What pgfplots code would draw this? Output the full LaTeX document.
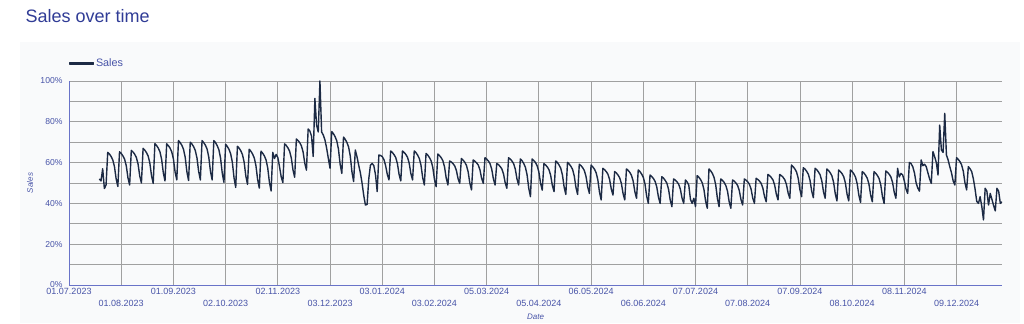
\documentclass[border=0pt]{standalone}
\usepackage{fontspec}
\setmainfont{Liberation Sans}
\usepackage{pgfplots}
\usepackage{pgfplotstable}
\pgfplotsset{compat=1.18}
\definecolor{titleblue}{RGB}{48,60,150}
\definecolor{labblue}{RGB}{72,84,168}
\definecolor{axisblue}{RGB}{105,115,200}
\definecolor{linecol}{RGB}{28,42,68}
\definecolor{panel}{RGB}{249,250,251}
\definecolor{gridc}{RGB}{160,160,160}

\pgfplotstableread[row sep=\\]{
y\\
52\\ 51\\ 57\\ 47.3\\ 49\\
65.0\\ 64.2\\ 63.0\\ 61.3\\ 58.0\\ 52.0\\ 48.3\\
65.3\\ 64.5\\ 63.3\\ 61.7\\ 58.5\\ 52.6\\ 49.0\\
66.0\\ 65.2\\ 64.1\\ 62.5\\ 59.3\\ 53.5\\ 50.0\\
67.0\\ 66.1\\ 64.9\\ 63.2\\ 59.8\\ 53.6\\ 49.8\\
69.3\\ 68.4\\ 67.1\\ 65.3\\ 61.6\\ 55.0\\ 51.0\\
69.2\\ 68.3\\ 67.1\\ 65.3\\ 61.8\\ 55.4\\ 51.5\\
70.8\\ 69.8\\ 68.5\\ 66.5\\ 62.6\\ 55.5\\ 51.2\\
70.0\\ 69.1\\ 67.8\\ 65.9\\ 62.2\\ 55.6\\ 51.5\\
70.8\\ 69.8\\ 68.5\\ 66.6\\ 62.7\\ 55.7\\ 51.5\\
70.8\\ 69.8\\ 68.3\\ 66.3\\ 62.2\\ 54.8\\ 50.3\\
69.0\\ 67.9\\ 66.5\\ 64.3\\ 60.1\\ 52.5\\ 47.8\\
68.0\\ 67.1\\ 65.8\\ 63.9\\ 60.2\\ 53.4\\ 49.3\\
66.5\\ 65.6\\ 64.2\\ 62.3\\ 58.5\\ 51.7\\ 47.5\\
65.6\\ 64.6\\ 63.3\\ 61.3\\ 57.4\\ 50.4\\ 46.1\\
65.0\\ 62.0\\ 64.0\\ 62.5\\ 58.0\\ 53.0\\ 50.2\\
69.2\\ 68.4\\ 67.2\\ 65.6\\ 62.3\\ 56.4\\ 52.8\\
71.6\\ 70.8\\ 69.8\\ 68.2\\ 65.2\\ 59.7\\ 56.3\\
76.5\\ 75.5\\ 73.0\\ 63.0\\ 91.5\\ 78.5\\ 75.0\\
100\\ 75.0\\ 73.5\\ 71.0\\ 67.0\\ 62.0\\ 57.2\\
75.2\\ 74.2\\ 72.7\\ 70.7\\ 66.6\\ 59.2\\ 54.7\\
72.5\\ 71.4\\ 69.9\\ 67.7\\ 63.3\\ 55.5\\ 50.7\\
66.2\\ 62.9\\ 58.8\\ 55.0\\ 50.0\\ 44.0\\ 39.2\\
39.5\\ 52.0\\ 58.8\\ 59.6\\ 58.5\\ 54.0\\ 45.8\\
63.7\\ 63.5\\ 62.9\\ 61.5\\ 58.5\\ 54.2\\ 51.5\\
65.7\\ 65.0\\ 63.9\\ 62.5\\ 59.5\\ 54.2\\ 51.0\\
65.7\\ 65.0\\ 64.0\\ 62.6\\ 59.7\\ 54.6\\ 51.5\\
65.7\\ 64.9\\ 63.7\\ 62.0\\ 58.7\\ 52.7\\ 49.0\\
64.5\\ 63.7\\ 62.5\\ 60.9\\ 57.7\\ 51.8\\ 48.2\\
64.2\\ 63.4\\ 62.4\\ 60.9\\ 57.8\\ 52.3\\ 49.0\\
60.8\\ 60.3\\ 59.5\\ 58.4\\ 56.2\\ 52.2\\ 49.8\\
62.0\\ 61.2\\ 60.2\\ 58.6\\ 55.5\\ 50.0\\ 46.6\\
61.3\\ 60.7\\ 59.9\\ 58.8\\ 56.5\\ 52.3\\ 49.8\\
62.4\\ 61.7\\ 60.8\\ 59.5\\ 56.8\\ 52.0\\ 49.0\\
59.6\\ 59.0\\ 58.1\\ 56.9\\ 54.5\\ 50.1\\ 47.4\\
62.4\\ 61.7\\ 60.8\\ 59.5\\ 56.8\\ 52.0\\ 49.0\\
61.8\\ 60.9\\ 59.6\\ 57.7\\ 54.0\\ 47.4\\ 43.3\\
61.8\\ 61.0\\ 60.0\\ 58.4\\ 55.4\\ 49.9\\ 46.5\\
59.5\\ 58.8\\ 57.9\\ 56.5\\ 53.8\\ 48.8\\ 45.8\\
60.8\\ 60.0\\ 58.8\\ 57.2\\ 53.9\\ 48.0\\ 44.4\\
60.1\\ 59.3\\ 58.2\\ 56.7\\ 53.5\\ 47.9\\ 44.4\\
59.2\\ 58.5\\ 57.5\\ 56.1\\ 53.2\\ 48.1\\ 44.9\\
58.8\\ 57.9\\ 56.8\\ 55.0\\ 51.6\\ 45.5\\ 41.7\\
57.2\\ 56.5\\ 55.6\\ 54.3\\ 51.7\\ 47.0\\ 44.1\\
55.6\\ 54.9\\ 53.9\\ 52.5\\ 49.8\\ 44.8\\ 41.7\\
56.9\\ 56.2\\ 55.2\\ 53.7\\ 50.9\\ 45.7\\ 42.5\\
56.4\\ 55.6\\ 54.4\\ 52.8\\ 49.5\\ 43.6\\ 40.0\\
53.9\\ 53.2\\ 52.2\\ 50.8\\ 48.1\\ 43.1\\ 40.0\\
53.1\\ 52.4\\ 51.3\\ 49.9\\ 46.9\\ 41.6\\ 38.4\\
52.0\\ 51.4\\ 50.6\\ 49.4\\ 47.0\\ 42.6\\ 40.0\\
51.5\\ 50.5\\ 49.0\\ 42.0\\ 40.0\\ 42.5\\ 38.4\\
53.6\\ 52.8\\ 51.7\\ 50.1\\ 46.9\\ 41.1\\ 37.6\\
56.9\\ 56.0\\ 54.7\\ 52.8\\ 49.1\\ 42.5\\ 38.4\\
52.0\\ 51.3\\ 50.3\\ 48.8\\ 46.0\\ 40.8\\ 37.6\\
51.5\\ 50.9\\ 50.0\\ 48.8\\ 46.3\\ 41.9\\ 39.2\\
52.0\\ 51.4\\ 50.6\\ 49.4\\ 47.0\\ 42.6\\ 40.0\\
52.3\\ 51.7\\ 50.9\\ 49.8\\ 47.5\\ 43.3\\ 40.8\\
54.2\\ 53.6\\ 52.7\\ 51.5\\ 49.0\\ 44.5\\ 41.7\\
54.2\\ 53.6\\ 52.8\\ 51.6\\ 49.3\\ 45.1\\ 42.5\\
58.8\\ 58.0\\ 56.9\\ 55.4\\ 52.3\\ 46.7\\ 43.3\\
57.5\\ 56.8\\ 55.7\\ 54.3\\ 51.3\\ 46.0\\ 42.8\\
57.2\\ 56.5\\ 55.4\\ 54.0\\ 51.0\\ 45.7\\ 42.5\\
56.9\\ 56.1\\ 55.0\\ 53.5\\ 50.3\\ 44.7\\ 41.2\\
56.4\\ 55.6\\ 54.6\\ 53.1\\ 50.0\\ 44.5\\ 41.2\\
56.4\\ 55.6\\ 54.5\\ 52.9\\ 49.7\\ 44.0\\ 40.5\\
55.6\\ 54.9\\ 53.8\\ 52.3\\ 49.4\\ 44.1\\ 40.8\\
55.6\\ 54.8\\ 53.7\\ 52.2\\ 49.1\\ 43.4\\ 40.0\\
55.9\\ 55.2\\ 54.3\\ 53.0\\ 50.3\\ 45.5\\ 42.5\\
57.2\\ 53.0\\ 54.7\\ 54.0\\ 51.0\\ 47.0\\ 44.9\\
60.1\\ 59.5\\ 58.0\\ 55.0\\ 50.0\\ 47.5\\ 46.0\\
61.3\\ 58.5\\ 59.2\\ 58.0\\ 55.0\\ 52.0\\ 49.8\\
65.4\\ 62.9\\ 60.0\\ 53.9\\ 78.4\\ 66.2\\ 65.0\\
84.2\\ 63.7\\ 61.3\\ 58.0\\ 55.0\\ 51.0\\ 49.0\\
62.4\\ 61.6\\ 60.5\\ 58.9\\ 55.8\\ 50.1\\ 46.6\\
58.0\\ 57.0\\ 55.6\\ 52.0\\ 47.0\\ 41.0\\ 40.0\\
43.3\\ 38.5\\ 31.9\\ 47.4\\ 46.0\\ 39.2\\ 44.9\\
42.0\\ 39.0\\ 36.3\\ 47.4\\ 46.0\\ 40.0\\ 40.8\\
}\salesdata

\begin{document}
\begin{tikzpicture}[x=1pt,y=1pt]
\fill[white] (0,0) rectangle (1024,323);
\fill[panel] (20,0) rectangle (1020,281);
\node[anchor=base west, inner sep=0pt, text=titleblue, font=\fontsize{18}{20}\selectfont] at (25.5,300.3) {Sales over time};
\begin{axis}[
  at={(69pt,38pt)}, anchor=south west,
  scale only axis, width=933pt, height=204pt,
  xmin=0, xmax=554, ymin=0, ymax=100,
  axis lines*=left,
  axis line style={axisblue, line width=0.9pt},
  xtick={0,62,124,186,248,310,372,434,496},
  xticklabels={01.07.2023,01.09.2023,02.11.2023,03.01.2024,05.03.2024,06.05.2024,07.07.2024,07.09.2024,08.11.2024},
  extra x ticks={31,93,155,217,279,341,403,465,527},
  extra x tick labels={01.08.2023,02.10.2023,03.12.2023,03.02.2024,05.04.2024,06.06.2024,07.08.2024,08.10.2024,09.12.2024},
  extra x tick style={grid=major, xticklabel style={yshift=-11.3pt}},
  ytick={0,20,40,60,80,100},
  yticklabels={0\%,20\%,40\%,60\%,80\%,100\%},
  minor ytick={10,30,50,70,90},
  grid=both,
  major grid style={gridc, line width=0.8pt},
  minor grid style={gridc, line width=0.8pt},
  major tick length=0pt, minor tick length=0pt,
  xticklabel style={font=\fontsize{9}{10}\selectfont, text=labblue},
  yticklabel style={font=\fontsize{8.6}{10}\selectfont, text=labblue, xshift=-3pt},
  xlabel={Date}, ylabel={Sales},
  xlabel style={at={(axis description cs:0.5,-0.157)}, anchor=center, font=\itshape\fontsize{8}{9}\selectfont, text=labblue},
  ylabel style={at={(axis description cs:-0.0418,0.5)}, anchor=center, font=\itshape\fontsize{8}{9}\selectfont, text=labblue},
  legend image code/.code={\fill[linecol] (0pt,-0.9pt) rectangle (23.4pt,0.9pt);},
  legend style={at={(axis description cs:0,1.086)}, anchor=west, draw=none, fill=none, inner sep=0pt, font=\fontsize{10.8}{12}\selectfont, text=labblue},
]
\addplot[color=linecol, line width=1.4pt, line join=round, mark=none] table[x expr=\coordindex+18, y=y] {\salesdata};
\addlegendentry{Sales}
\end{axis}
\end{tikzpicture}
\end{document}
